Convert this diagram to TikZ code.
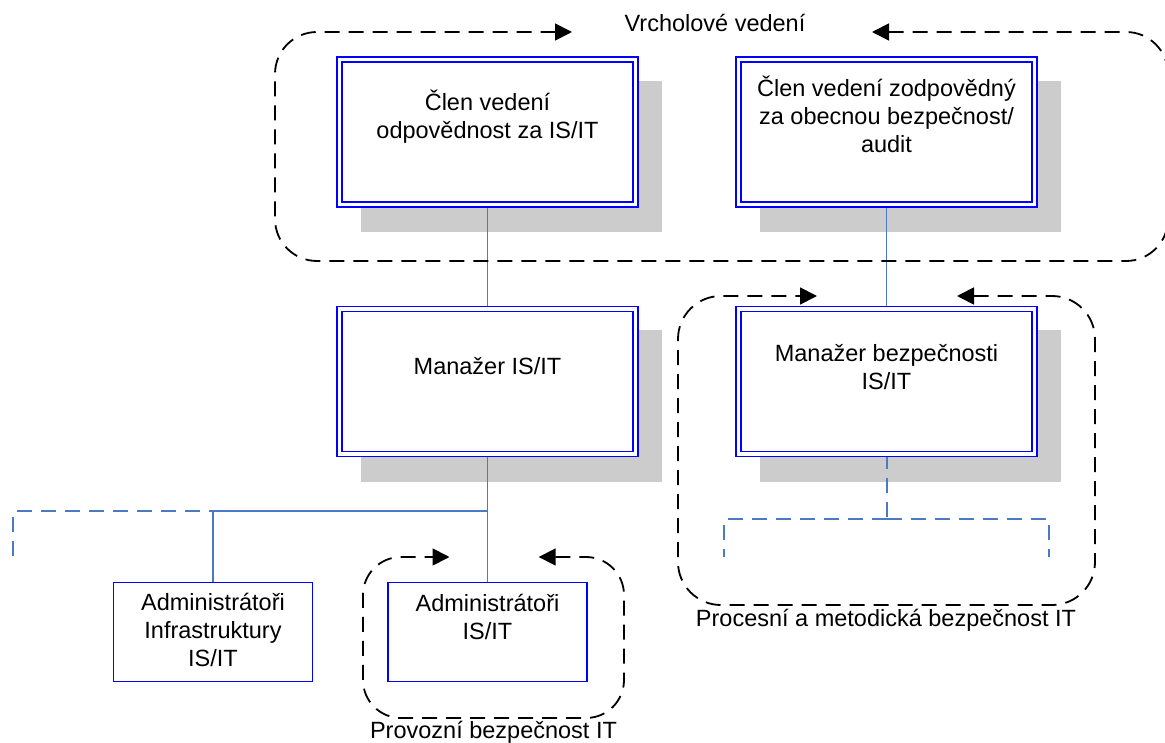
\documentclass[tikz,border=0pt]{standalone}
\usepackage{fontspec}
\setmainfont{Liberation Sans}
\usetikzlibrary{arrows.meta,backgrounds}
\definecolor{boxblue}{RGB}{0,0,255}
\definecolor{linkblue}{RGB}{74,122,196}
\definecolor{shadowgray}{RGB}{204,204,204}
\begin{document}
\begin{tikzpicture}[x=1pt,y=-1pt,
  txt/.style={font=\fontsize{23.5}{28}\selectfont},
  bigbox/.style={txt, draw=boxblue, line width=1.7pt, double=white, double distance=3.3pt,
    fill=white, inner sep=0pt, outer sep=0pt, align=center, minimum width=296pt, minimum height=145pt},
  smallbox/.style={txt, draw=boxblue, line width=1.8pt, fill=white, inner sep=0pt, outer sep=0pt,
    align=center, minimum width=199pt, minimum height=99pt},
  link/.style={draw=linkblue, line width=1.7pt},
  dlink/.style={draw=linkblue, line width=2pt, dash pattern=on 15pt off 9pt},
  grp/.style={draw=black, line width=1.8pt, dash pattern=on 15pt off 9pt,
    {Triangle[length=17pt,width=17pt]}-{Triangle[length=17pt,width=17pt]}},
  shade/.style={fill=shadowgray}
]
\useasboundingbox (0,0) rectangle (1165,743);

% boxes (text height measured to the baseline of the last line)
\node[bigbox, text height=79.5pt, text depth=65.5pt] (A) at (487.5,132) {Člen vedení\\odpovědnost za IS/IT};
\node[bigbox, text height=93.5pt, text depth=51.5pt] (B) at (886.5,132) {Člen vedení zodpovědný\\za obecnou bezpečnost/\\audit};
\node[bigbox, text height=65.5pt, text depth=79.5pt] (C) at (487.5,381.5) {Manažer IS/IT};
\node[bigbox, text height=80.5pt, text depth=64.5pt] (D) at (886.5,381.5) {Manažer bezpečnosti\\IS/IT};
\node[smallbox, text height=84.2pt, text depth=14.8pt] (E) at (213,632) {Administrátoři\\Infrastruktury\\IS/IT};
\node[smallbox, text height=56.5pt, text depth=42.5pt] (F) at (487.5,632) {Administrátoři\\IS/IT};

\coordinate (J) at (487.5,511);
\coordinate (Lend) at (13,557);
\coordinate (K) at (886.5,519);
\coordinate (Ka) at (724,557);
\coordinate (Kb) at (1048.5,557);

\begin{scope}[on background layer]
  \foreach \n in {A,B,C,D}
    \fill[shade] ([shift={(21.5,21.5)}]\n.north west) rectangle ([shift={(26.5,27.5)}]\n.south east);
  \draw[link] (A.south) -- (C.north);
  \draw[link] (B.south) -- (D.north);
  \draw[link] (C.south) -- (F.north);
  \draw[dlink] (J) -| (Lend);
  \draw[link] (J) -| (E.north);
  \draw[dlink] (D.south) -- (K);
  \draw[dlink] (K) -| (Ka);
  \draw[dlink] (K) -| (Kb);
\end{scope}

% groups
\draw[grp, rounded corners=42pt] (872,32) -- (1168,32) -- (1168,261) -- (275,261) -- (275,32) -- (572,32);
\draw[grp, rounded corners=43pt] (957,296) -- (1095,296) -- (1095,605) -- (678,605) -- (678,296) -- (817,296);
\draw[grp, rounded corners=38pt] (538.7,557) -- (624,557) -- (624,718) -- (363,718) -- (363,557) -- (449.5,557);

% labels
\node[txt, anchor=base] (lv) at (715,31.5) {Vrcholové vedení};
\node[txt, anchor=base] (lp) at (886,626.7) {Procesní a metodická bezpečnost IT};
\node[txt, anchor=base] (lo) at (493.5,738) {Provozní bezpečnost IT};
\end{tikzpicture}
\end{document}
